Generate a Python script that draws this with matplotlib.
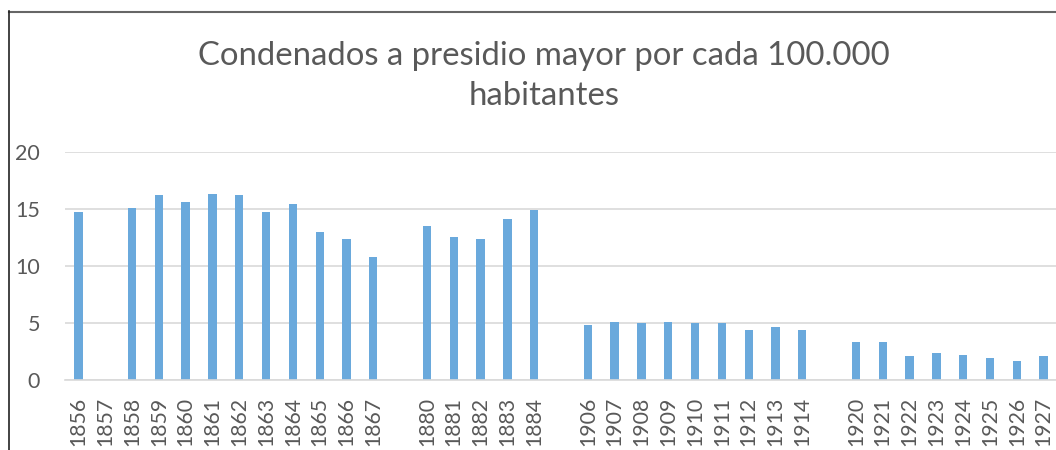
import matplotlib
matplotlib.use("Agg")
import matplotlib.pyplot as plt
from matplotlib.lines import Line2D

plt.rcParams['font.family'] = ['Lato', 'DejaVu Sans']

years = ["1856", "1857", "1858", "1859", "1860", "1861", "1862", "1863", "1864",
         "1865", "1866", "1867", "",
         "1880", "1881", "1882", "1883", "1884", "",
         "1906", "1907", "1908", "1909", "1910", "1911", "1912", "1913", "1914", "",
         "1920", "1921", "1922", "1923", "1924", "1925", "1926", "1927"]
values = [14.7, 0, 15.05, 16.2, 15.6, 16.35, 16.2, 14.7, 15.45,
          13.0, 12.35, 10.75, 0,
          13.5, 12.55, 12.35, 14.15, 14.95, 0,
          4.8, 5.1, 5.0, 5.1, 5.0, 5.0, 4.35, 4.65, 4.35, 0,
          3.3, 3.3, 2.1, 2.35, 2.2, 1.9, 1.7, 2.1]
title_lines = ["Condenados a presidio mayor por cada 100.000", "habitantes"]

W, H = 1056, 450
fig = plt.figure(figsize=(W / 100, H / 100), dpi=100)
ax = fig.add_axes([65 / W, (H - 380) / H, (1057 - 65) / W, 228 / H])

x = list(range(len(years)))
ax.bar(x, values, width=0.31, color="#6aa9dc", zorder=3)
ax.set_xlim(-0.5, len(years) - 0.5)
ax.set_ylim(0, 20)
ax.set_yticks([0, 5, 10, 15, 20])
ax.set_xticks(x)
ax.set_xticklabels(years, rotation=90, fontsize=15.3, color="#595959")
ax.tick_params(axis="x", length=0, pad=12)
ax.tick_params(axis="y", length=0, pad=18, labelsize=15.5, labelcolor="#595959")
ax.grid(axis="y", color="#d9d9d9", linewidth=1.2, zorder=0)
for s in ["top", "right", "left"]:
    ax.spines[s].set_visible(False)
ax.spines["bottom"].set_color("#d9d9d9")
ax.spines["bottom"].set_linewidth(1.2)
ax.spines["bottom"].set_zorder(4)

for line, base in zip(title_lines, [65, 105]):
    fig.text(544 / W, 1 - base / H, line, ha="center", va="baseline",
             fontsize=23.7, color="#595959")

# chart border (cropped)
fig.add_artist(Line2D([8.5 / W, 1.0], [1 - 11.5 / H, 1 - 11.5 / H],
                      transform=fig.transFigure, color="#666666", linewidth=1.5))
fig.add_artist(Line2D([9 / W, 9 / W], [0, 1 - 11 / H],
                      transform=fig.transFigure, color="#222222", linewidth=1.2))

fig.savefig("out.png", dpi=100)
